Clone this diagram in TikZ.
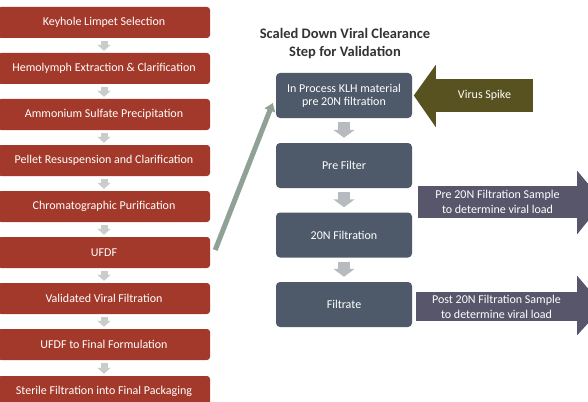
\documentclass[tikz,border=0pt]{standalone}
\usepackage{fontspec}
\setmainfont{Carlito}
\usetikzlibrary{arrows.meta,calc}

\definecolor{stepred}{HTML}{A3392A}
\definecolor{slate}{HTML}{4E5A69}
\definecolor{spikeolive}{HTML}{57521F}
\definecolor{samplegray}{HTML}{57566B}
\definecolor{valgreen}{HTML}{8FA295}
\definecolor{lightgray}{HTML}{C9CDC9}
\definecolor{midgray}{HTML}{B7BBBF}
\definecolor{titlegray}{HTML}{333333}

\begin{document}
\begin{tikzpicture}
  [x=1pt,y=-1pt,
   every node/.style={text=white,font=\fontsize{12}{13}\selectfont,align=center,inner sep=0pt},
   stepbox/.style={fill=stepred,rounded corners=3pt,minimum width=212pt,minimum height=31pt},
   procbox/.style={fill=slate,rounded corners=4pt,minimum width=136pt,minimum height=45pt},
   spikebody/.style={fill=spikeolive,minimum width=97pt,minimum height=33pt},
   samplebody/.style={fill=samplegray,minimum width=159pt,minimum height=32pt,font=\fontsize{12}{15}\selectfont},
   stepflow/.style={draw=lightgray,line width=7pt,-{Triangle[width=13pt,length=6pt]},shorten <=3pt,shorten >=2pt},
   procflow/.style={draw=midgray,line width=12pt,-{Triangle[width=21pt,length=8pt]},shorten <=4pt,shorten >=5pt}]

  \clip (0,0) rectangle (588,401);
  \fill[white] (0,0) rectangle (588,401);

  % production steps
  \node[stepbox] (k1) at (104,22.5) {Keyhole Limpet Selection};
  \node[stepbox] (k2) at (104,68.5) {Hemolymph Extraction \& Clarification};
  \node[stepbox] (k3) at (104,114.5) {Ammonium Sulfate Precipitation};
  \node[stepbox] (k4) at (104,160.5) {Pellet Resuspension and Clarification};
  \node[stepbox] (k5) at (104,206.5) {Chromatographic Purification};
  \node[stepbox] (k6) at (104,252.5) {UFDF};
  \node[stepbox] (k7) at (104,298.5) {Validated Viral Filtration};
  \node[stepbox] (k8) at (104,344.5) {UFDF to Final Formulation};
  \node[stepbox] (k9) at (104,391.5) {Sterile Filtration into Final Packaging};

  \foreach \from/\to in {k1/k2, k2/k3, k3/k4, k4/k5, k5/k6, k6/k7, k7/k8, k8/k9}
    \draw[stepflow] (\from) -- (\to);

  % scaled down step
  \node[text=titlegray,font=\fontsize{14.5}{18}\selectfont\bfseries] (title) at (345,44)
    {Scaled Down Viral Clearance\\Step for Validation};
  \node[procbox] (pA) at (344,95.5) {In Process KLH material\\pre 20N filtration};
  \node[procbox] (pB) at (344,165.5) {Pre Filter};
  \node[procbox] (pC) at (344,235) {20N Filtration};
  \node[procbox] (pD) at (344,304.5) {Filtrate};

  \foreach \from/\to in {pA/pB, pB/pC, pC/pD}
    \draw[procflow] (\from) -- (\to);

  \draw[valgreen,line width=5pt,-{Triangle[width=11pt,length=8pt]}]
    ([shift={(5,-2.5)}]k6.east) -- ([shift={(-3,7.5)}]pA.west);

  % virus spike
  \node[spikebody] (spike) at (484.5,95.5) {Virus Spike};
  \fill[spikeolive] (spike.north west) -- ++(0,-14) -- ($(spike.west)+(-22,0)$)
    -- ($(spike.south west)+(0,15)$) -- cycle;

  % samples
  \node[samplebody] (pre) at (497.5,202) {Pre 20N Filtration Sample\\to determine viral load};
  \fill[samplegray] (pre.north east) -- ++(0,-15) -- ($(pre.east)+(26,0)$)
    -- ($(pre.south east)+(0,16)$) -- cycle;
  \node[samplebody,minimum width=161pt,minimum height=29pt] (post) at (496.5,306.5)
    {Post 20N Filtration Sample\\to determine viral load};
  \fill[samplegray] (post.north east) -- ++(0,-16) -- ($(post.east)+(26,0)$)
    -- ($(post.south east)+(0,14)$) -- cycle;
\end{tikzpicture}
\end{document}
